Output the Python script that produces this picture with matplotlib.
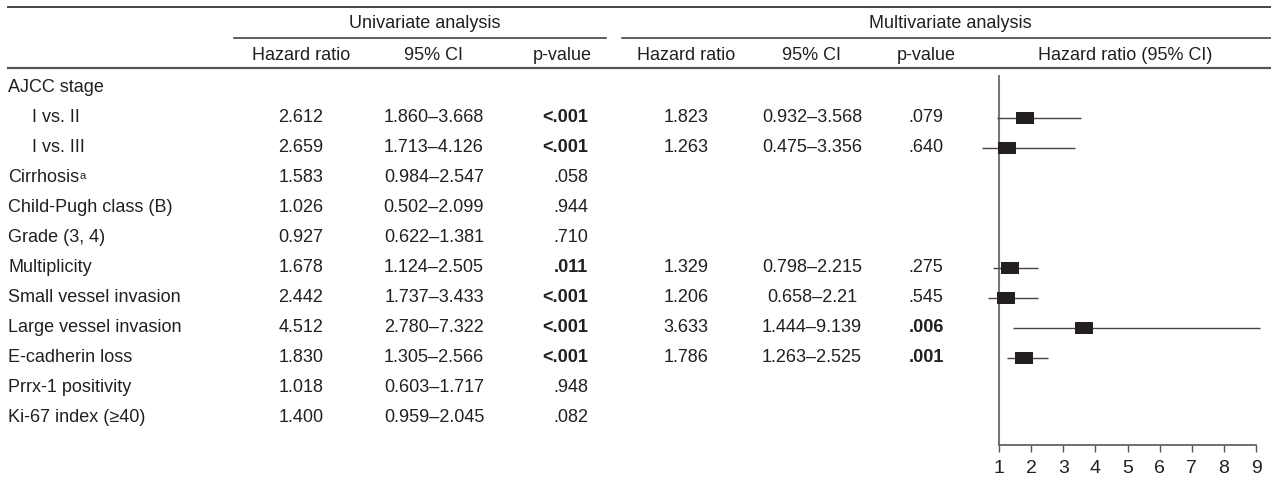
import numpy as np
import matplotlib
matplotlib.use("Agg")
import matplotlib.pyplot as plt

plt.rcParams['font.family'] = ['Liberation Sans', 'DejaVu Sans']

# table data
labels = ["AJCC stage", "I vs. II", "I vs. III", "Cirrhosis", "Child-Pugh class (B)",
          "Grade (3, 4)", "Multiplicity", "Small vessel invasion", "Large vessel invasion",
          "E-cadherin loss", "Prrx-1 positivity", "Ki-67 index (\u226540)"]
indent = [False, True, True, False, False, False, False, False, False, False, False, False]
uni_hr = [None, 2.612, 2.659, 1.583, 1.026, 0.927, 1.678, 2.442, 4.512, 1.830, 1.018, 1.400]
uni_lo = [None, 1.860, 1.713, 0.984, 0.502, 0.622, 1.124, 1.737, 2.780, 1.305, 0.603, 0.959]
uni_hi = [None, 3.668, 4.126, 2.547, 2.099, 1.381, 2.505, 3.433, 7.322, 2.566, 1.717, 2.045]
uni_p = ["", "<.001", "<.001", ".058", ".944", ".710", ".011", "<.001", "<.001", "<.001", ".948", ".082"]
multi_hr = [None, 1.823, 1.263, None, None, None, 1.329, 1.206, 3.633, 1.786, None, None]
multi_lo = [None, 0.932, 0.475, None, None, None, 0.798, 0.658, 1.444, 1.263, None, None]
multi_hi = [None, 3.568, 3.356, None, None, None, 2.215, 2.21, 9.139, 2.525, None, None]
multi_p = ["", ".079", ".640", "", "", "", ".275", ".545", ".006", ".001", "", ""]
hr_ticks = [1, 2, 3, 4, 5, 6, 7, 8, 9]

W, H = 1271, 487
TXT = '#231f20'
FS = 13

def is_sig(p):
    if p == "":
        return False
    if p.startswith("<"):
        return True
    return float(p) < 0.05

fig = plt.figure(figsize=(W / 100, H / 100), dpi=100)
ax = fig.add_axes([0, 0, 1, 1])
ax.set_xlim(0, W)
ax.set_ylim(H, 0)
ax.axis('off')

# rules
ax.plot([8, W], [7, 7], color='#444444', lw=1.4)
ax.plot([234, 606], [38, 38], color='#444444', lw=1.2)
ax.plot([622, W], [38, 38], color='#444444', lw=1.2)
ax.plot([8, W], [68, 68], color='#555555', lw=1.6)

# headers
ax.text(425, 24, "Univariate analysis", ha='center', va='center', fontsize=FS, color=TXT)
ax.text(950, 24, "Multivariate analysis", ha='center', va='center', fontsize=FS, color=TXT)
heads = [(301, "Hazard ratio"), (434, "95% CI"), (562, "p-value"),
         (686, "Hazard ratio"), (812, "95% CI"), (926, "p-value"),
         (1125, "Hazard ratio (95% CI)")]
for x, s in heads:
    ax.text(x, 55, s, ha='center', va='center', fontsize=FS, color=TXT)

row_y = 88 + 30 * np.arange(len(labels))

for i, y in enumerate(row_y):
    t = ax.text(32 if indent[i] else 8, y, labels[i], ha='left', va='center',
                fontsize=FS, color=TXT)
    if labels[i] == "Cirrhosis":
        ax.annotate("a", xy=(1, 1), xycoords=t, xytext=(0.5, -1),
                    textcoords='offset points', ha='left', va='top',
                    fontsize=8, color=TXT)
    if uni_hr[i] is not None:
        ax.text(301, y, f"{uni_hr[i]:.3f}", ha='center', va='center', fontsize=FS, color=TXT)
        ax.text(434, y, f"{uni_lo[i]:.3f}\u2013{uni_hi[i]:.3f}", ha='center', va='center',
                fontsize=FS, color=TXT)
        ax.text(588, y, uni_p[i], ha='right', va='center', fontsize=FS, color=TXT,
                fontweight='bold' if is_sig(uni_p[i]) else 'normal')
    if multi_hr[i] is not None:
        ax.text(686, y, str(multi_hr[i]), ha='center', va='center', fontsize=FS, color=TXT)
        ax.text(812, y, f"{multi_lo[i]}\u2013{multi_hi[i]}", ha='center', va='center',
                fontsize=FS, color=TXT)
        ax.text(926, y, multi_p[i], ha='center', va='center', fontsize=FS, color=TXT,
                fontweight='bold' if is_sig(multi_p[i]) else 'normal')

# forest plot: HR 1 at px 999, HR 9 at px 1256
ppu = (1256 - 999) / 8
xmin, xmax = 0.3, 9.3
x0 = 999 - (1 - xmin) * ppu
x1 = 999 + (xmax - 1) * ppu
fx = fig.add_axes([x0 / W, 0, (x1 - x0) / W, 1])
fx.patch.set_visible(False)
fx.set_xlim(xmin, xmax)
fx.set_ylim(H, 0)
for s in ['top', 'right', 'left']:
    fx.spines[s].set_visible(False)
fx.spines['bottom'].set_position(('data', 445))
fx.spines['bottom'].set_bounds(1, 9)
fx.spines['bottom'].set_color('#555555')
fx.spines['bottom'].set_linewidth(1.2)
fx.set_yticks([])
fx.set_xticks(hr_ticks)
fx.set_xticklabels([str(v) for v in hr_ticks])
fx.tick_params(axis='x', length=5, width=1, color='#555555', labelsize=14,
               labelcolor=TXT, pad=6)
fx.vlines(1, 75, 445, color='#777777', lw=1.5)

box = [(-1, -0.7), (1, -0.7), (1, 0.7), (-1, 0.7), (-1, -0.7)]
for i, y in enumerate(row_y):
    if multi_hr[i] is None:
        continue
    fx.hlines(y, multi_lo[i], multi_hi[i], color='#444444', lw=1)
    fx.plot(multi_hr[i], y, marker=box, ms=12.3, color=TXT, mew=0, zorder=3)

fig.savefig("out.png", dpi=100)
